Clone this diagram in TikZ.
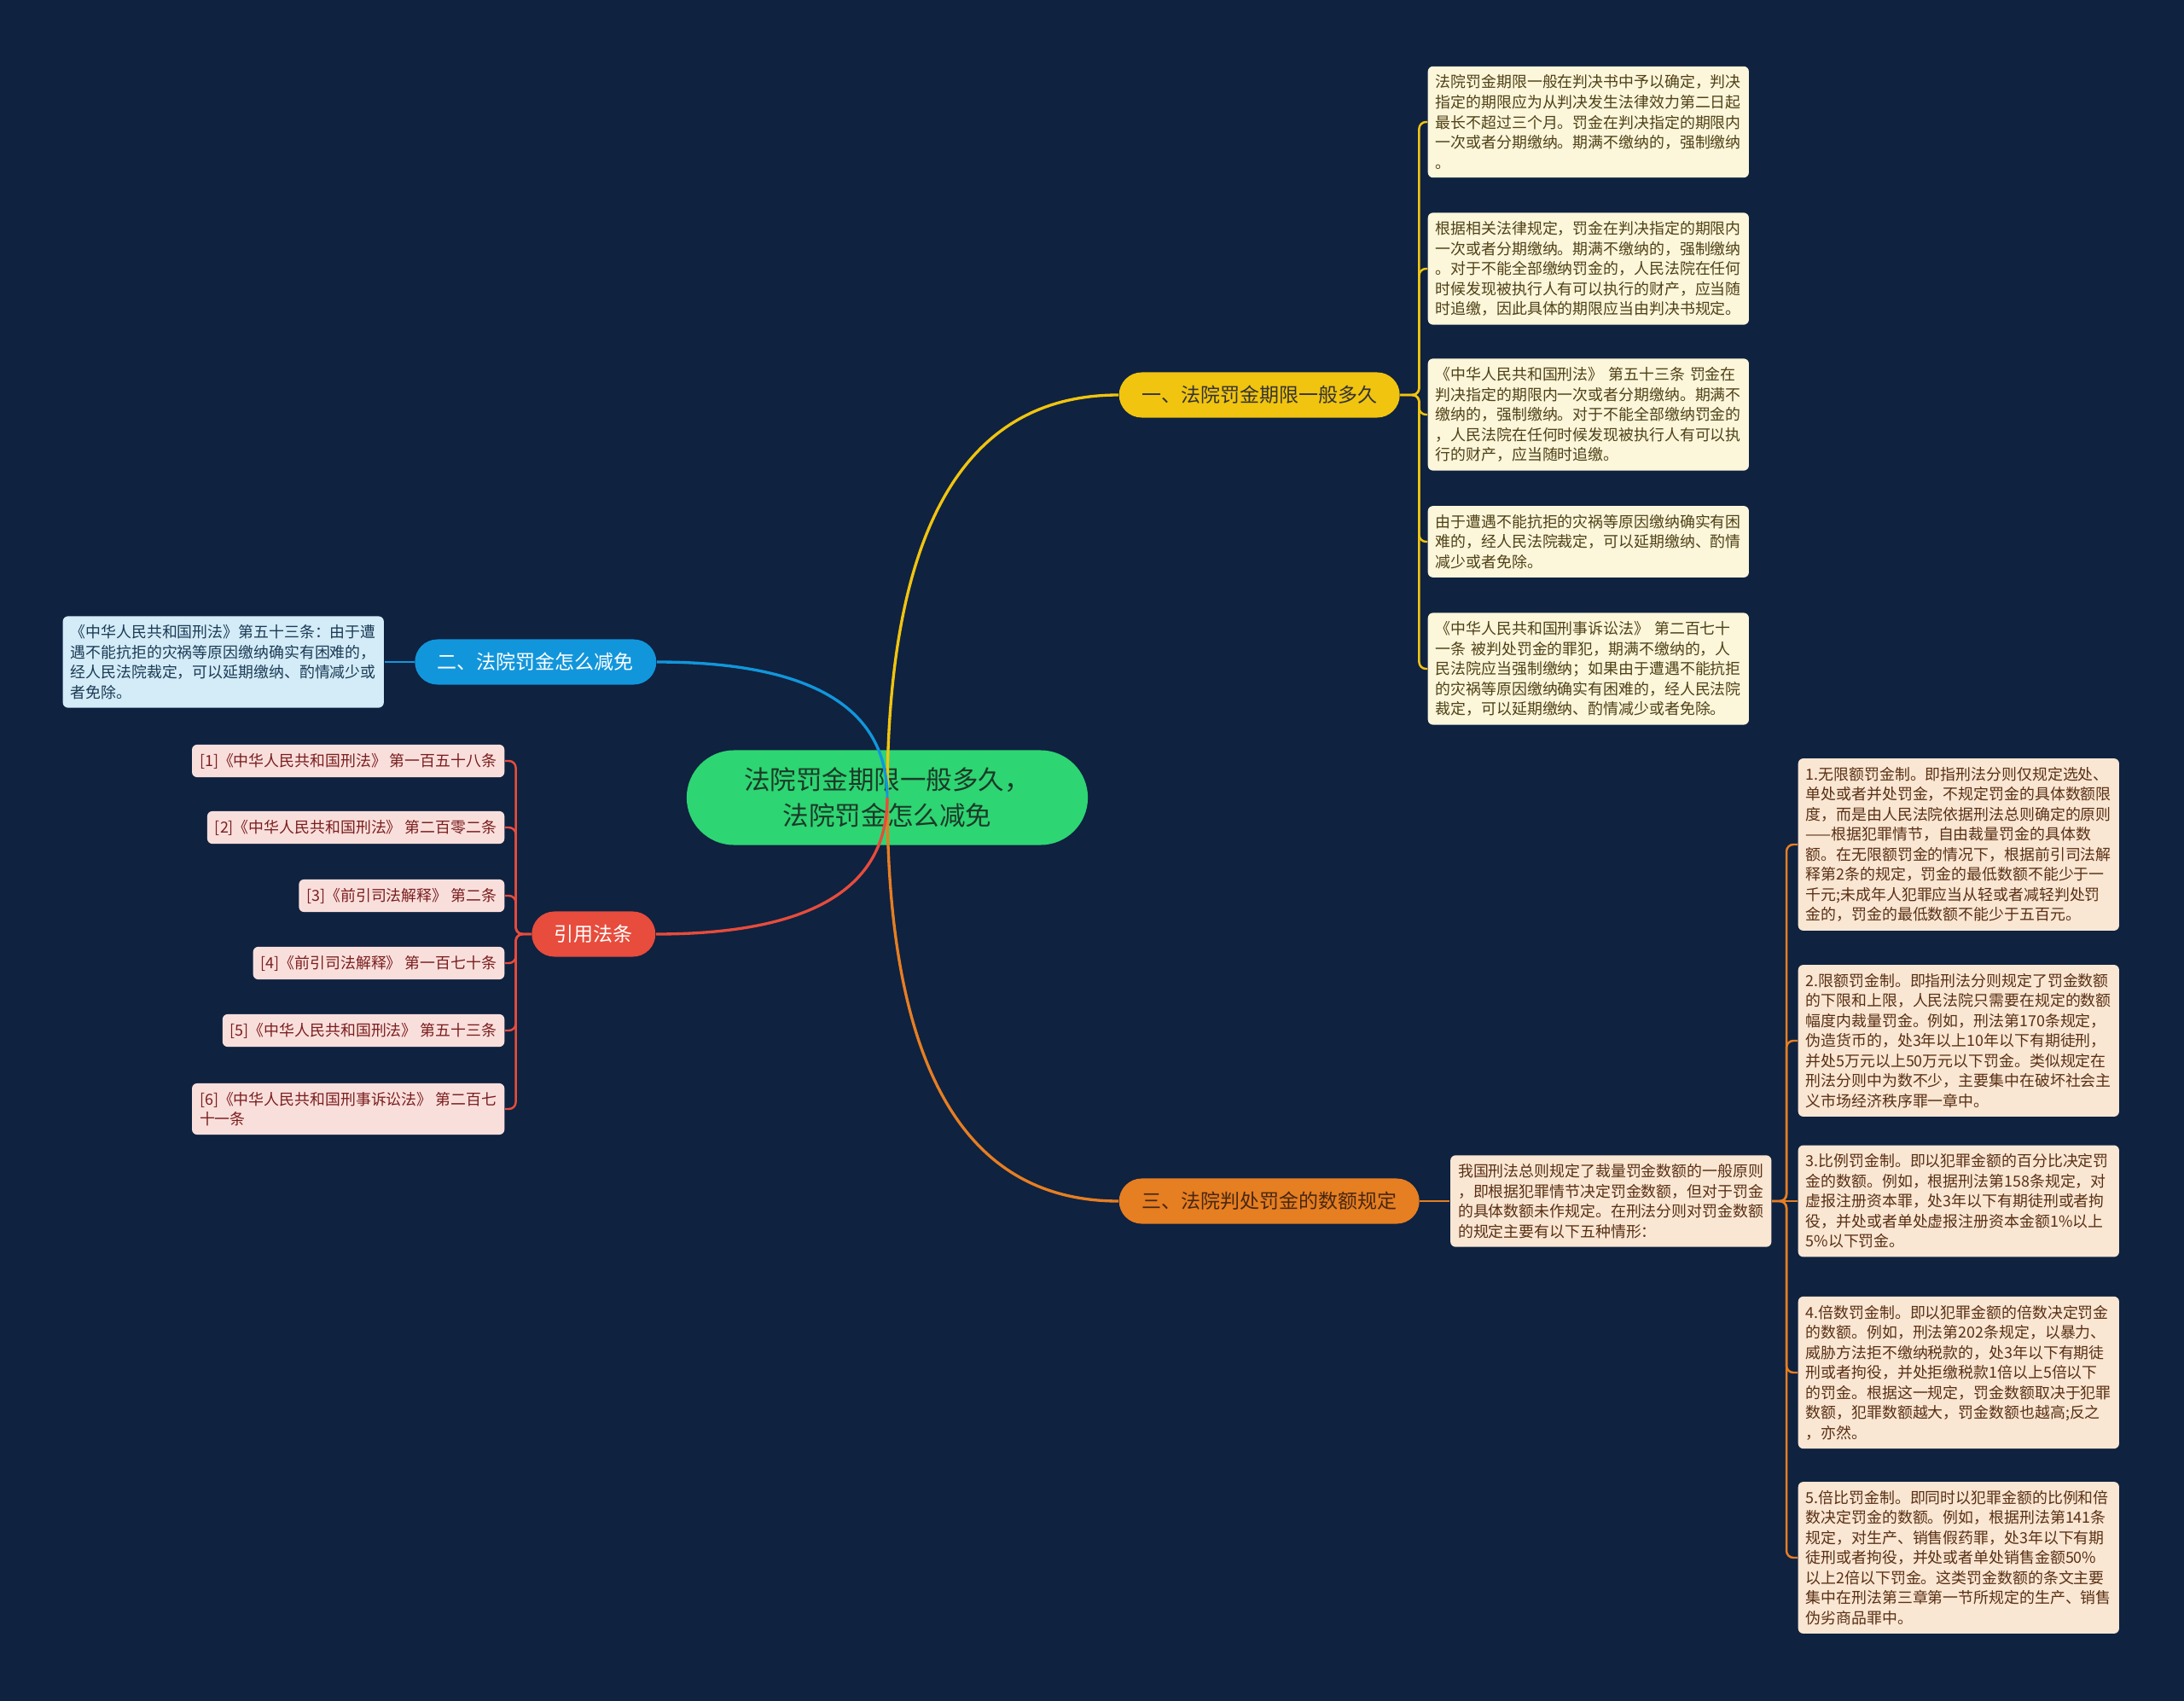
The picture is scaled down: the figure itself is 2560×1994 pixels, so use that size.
\documentclass[tikz,border=0pt]{standalone}
\usepackage{fontspec}
\setmainfont{Noto Sans CJK SC}
\usetikzlibrary{positioning,calc}
\definecolor{MapNavy}{HTML}{0F2240}
\definecolor{RootGreen}{HTML}{2ED573}
\definecolor{RootInk}{HTML}{1B3A27}
\definecolor{TopicYellow}{HTML}{F1C40F}
\definecolor{TopicBlue}{HTML}{1296DB}
\definecolor{TopicRed}{HTML}{E74C3C}
\definecolor{TopicOrange}{HTML}{E67E22}
\definecolor{YellowNote}{HTML}{FCF6DA}
\definecolor{YellowInk}{HTML}{4F4117}
\definecolor{BlueNote}{HTML}{D3ECF8}
\definecolor{BlueInk}{HTML}{1C3A55}
\definecolor{RedNote}{HTML}{F9DFDC}
\definecolor{RedInk}{HTML}{7A1E1E}
\definecolor{OrangeNote}{HTML}{F9E6D3}
\definecolor{OrangeInk}{HTML}{5A3014}

\begin{document}
\begin{tikzpicture}[
  x=0.01cm, y=-0.01cm,
  root/.style={fill=RootGreen, text=RootInk, rounded corners=0.555cm, minimum width=4.7cm, minimum height=1.11cm, align=center, font=\fontsize{8.68pt}{11.95pt}\selectfont},
  topic/.style={rounded corners=0.265cm, inner xsep=0.265cm, inner ysep=0pt, minimum height=0.53cm, font=\fontsize{6.54pt}{8pt}\selectfont},
  note/.style={rounded corners=0.06cm, inner xsep=0.09cm, inner ysep=0.1cm, align=left, font=\fontsize{5.09pt}{6.69pt}\selectfont},
  wide/.style={note, text width=3.58cm},
  link/.style={line width=0.95pt},
  twig/.style={line width=0.7pt, rounded corners=0.08cm}
]
\fill[MapNavy] (0,0) rectangle (2560,1994);
\useasboundingbox (0,0) rectangle (2560,1994);

% centre and main topics
\node[root] (root) at (1040,935) {法院罚金期限一般多久，\\法院罚金怎么减免};
\node[topic, fill=TopicYellow, text=black!80, anchor=west] (b1) at (1311,463) {一、法院罚金期限一般多久};
\node[topic, fill=TopicBlue, text=white, anchor=east] (b2) at (770,776) {二、法院罚金怎么减免};
\node[topic, fill=TopicOrange, text=OrangeInk!80!black, anchor=west] (b3) at (1311,1408) {三、法院判处罚金的数额规定};
\node[topic, fill=TopicRed, text=white, anchor=east] (cite) at (769,1095) {引用法条};

% topic one
\node[wide, fill=YellowNote, text=YellowInk, anchor=west] (a1) at (1673,143) {法院罚金期限一般在判决书中予以确定，判决\\指定的期限应为从判决发生法律效力第二日起\\最长不超过三个月。罚金在判决指定的期限内\\一次或者分期缴纳。期满不缴纳的，强制缴纳\\。};
\node[wide, fill=YellowNote, text=YellowInk, anchor=west] (a2) at (1673,315) {根据相关法律规定，罚金在判决指定的期限内\\一次或者分期缴纳。期满不缴纳的，强制缴纳\\。对于不能全部缴纳罚金的，人民法院在任何\\时候发现被执行人有可以执行的财产，应当随\\时追缴，因此具体的期限应当由判决书规定。};
\node[wide, fill=YellowNote, text=YellowInk, anchor=west] (a3) at (1673,486) {《中华人民共和国刑法》 第五十三条 罚金在\\判决指定的期限内一次或者分期缴纳。期满不\\缴纳的，强制缴纳。对于不能全部缴纳罚金的\\，人民法院在任何时候发现被执行人有可以执\\行的财产，应当随时追缴。};
\node[wide, fill=YellowNote, text=YellowInk, anchor=west] (a4) at (1673,635) {由于遭遇不能抗拒的灾祸等原因缴纳确实有困\\难的，经人民法院裁定，可以延期缴纳、酌情\\减少或者免除。};
\node[wide, fill=YellowNote, text=YellowInk, anchor=west] (a5) at (1673,784) {《中华人民共和国刑事诉讼法》 第二百七十\\一条 被判处罚金的罪犯，期满不缴纳的，人\\民法院应当强制缴纳；如果由于遭遇不能抗拒\\的灾祸等原因缴纳确实有困难的，经人民法院\\裁定，可以延期缴纳、酌情减少或者免除。};

% topic two
\node[wide, fill=BlueNote, text=BlueInk, left=0.35cm of b2] (relief) {《中华人民共和国刑法》第五十三条：由于遭\\遇不能抗拒的灾祸等原因缴纳确实有困难的，\\经人民法院裁定，可以延期缴纳、酌情减少或\\者免除。};

% topic three
\node[wide, fill=OrangeNote, text=OrangeInk, right=0.35cm of b3] (law) {我国刑法总则规定了裁量罚金数额的一般原则\\，即根据犯罪情节决定罚金数额，但对于罚金\\的具体数额未作规定。在刑法分则对罚金数额\\的规定主要有以下五种情形：};
\node[wide, fill=OrangeNote, text=OrangeInk, anchor=west] (p1) at (2107,990) {1.无限额罚金制。即指刑法分则仅规定选处、\\单处或者并处罚金，不规定罚金的具体数额限\\度，而是由人民法院依据刑法总则确定的原则\\——根据犯罪情节，自由裁量罚金的具体数\\额。在无限额罚金的情况下，根据前引司法解\\释第2条的规定，罚金的最低数额不能少于一\\千元;未成年人犯罪应当从轻或者减轻判处罚\\金的，罚金的最低数额不能少于五百元。};
\node[wide, fill=OrangeNote, text=OrangeInk, anchor=west] (p2) at (2107,1220) {2.限额罚金制。即指刑法分则规定了罚金数额\\的下限和上限，人民法院只需要在规定的数额\\幅度内裁量罚金。例如，刑法第170条规定，\\伪造货币的，处3年以上10年以下有期徒刑，\\并处5万元以上50万元以下罚金。类似规定在\\刑法分则中为数不少，主要集中在破坏社会主\\义市场经济秩序罪一章中。};
\node[wide, fill=OrangeNote, text=OrangeInk, anchor=west] (p3) at (2107,1408) {3.比例罚金制。即以犯罪金额的百分比决定罚\\金的数额。例如，根据刑法第158条规定，对\\虚报注册资本罪，处3年以下有期徒刑或者拘\\役，并处或者单处虚报注册资本金额1\%以上\\5\%以下罚金。};
\node[wide, fill=OrangeNote, text=OrangeInk, anchor=west] (p4) at (2107,1609) {4.倍数罚金制。即以犯罪金额的倍数决定罚金\\的数额。例如，刑法第202条规定，以暴力、\\威胁方法拒不缴纳税款的，处3年以下有期徒\\刑或者拘役，并处拒缴税款1倍以上5倍以下\\的罚金。根据这一规定，罚金数额取决于犯罪\\数额，犯罪数额越大，罚金数额也越高;反之\\，亦然。};
\node[wide, fill=OrangeNote, text=OrangeInk, anchor=west] (p5) at (2107,1826) {5.倍比罚金制。即同时以犯罪金额的比例和倍\\数决定罚金的数额。例如，根据刑法第141条\\规定，对生产、销售假药罪，处3年以下有期\\徒刑或者拘役，并处或者单处销售金额50\%\\以上2倍以下罚金。这类罚金数额的条文主要\\集中在刑法第三章第一节所规定的生产、销售\\伪劣商品罪中。};

% cited articles
\node[note, fill=RedNote, text=RedInk, anchor=east] (r1) at (592,892) {[1]《中华人民共和国刑法》 第一百五十八条};
\node[note, fill=RedNote, text=RedInk, anchor=east] (r2) at (592,970) {[2]《中华人民共和国刑法》 第二百零二条};
\node[note, fill=RedNote, text=RedInk, anchor=east] (r3) at (592,1050) {[3]《前引司法解释》 第二条};
\node[note, fill=RedNote, text=RedInk, anchor=east] (r4) at (592,1129) {[4]《前引司法解释》 第一百七十条};
\node[note, fill=RedNote, text=RedInk, anchor=east] (r5) at (592,1208) {[5]《中华人民共和国刑法》 第五十三条};
\node[note, fill=RedNote, text=RedInk, anchor=east] (r6) at (592,1300) {[6]《中华人民共和国刑事诉讼法》 第二百七\\十一条};

% branches from the centre
\draw[link, TopicYellow] (root.center) .. controls ($(root.center)!0.667!(root.center |- b1.west)$) and ($(b1.west)!0.667!(root.center |- b1.west)$) .. (b1.west);
\draw[link, TopicBlue] (root.center) .. controls ($(root.center)!0.667!(root.center |- b2.east)$) and ($(b2.east)!0.667!(root.center |- b2.east)$) .. (b2.east);
\draw[link, TopicOrange] (root.center) .. controls ($(root.center)!0.667!(root.center |- b3.west)$) and ($(b3.west)!0.667!(root.center |- b3.west)$) .. (b3.west);
\draw[link, TopicRed] (root.center) .. controls ($(root.center)!0.667!(root.center |- cite.east)$) and ($(cite.east)!0.667!(root.center |- cite.east)$) .. (cite.east);

% twigs
\foreach \n in {a1,a2,a3,a4,a5}
  \draw[twig, TopicYellow] (b1.east) -- ++(22,0) |- (\n.west);
\draw[twig, TopicBlue] (b2.west) -- (relief.east);
\draw[twig, TopicOrange] (b3.east) -- (law.west);
\foreach \n in {p1,p2,p4,p5}
  \draw[twig, TopicOrange] (law.east) -- ++(17,0) |- (\n.west);
\draw[twig, TopicOrange] (law.east) -- (p3.west);
\foreach \n in {r1,r2,r3,r4,r5,r6}
  \draw[twig, TopicRed] (cite.west) -- ++(-18,0) |- (\n.east);
\end{tikzpicture}
\end{document}
